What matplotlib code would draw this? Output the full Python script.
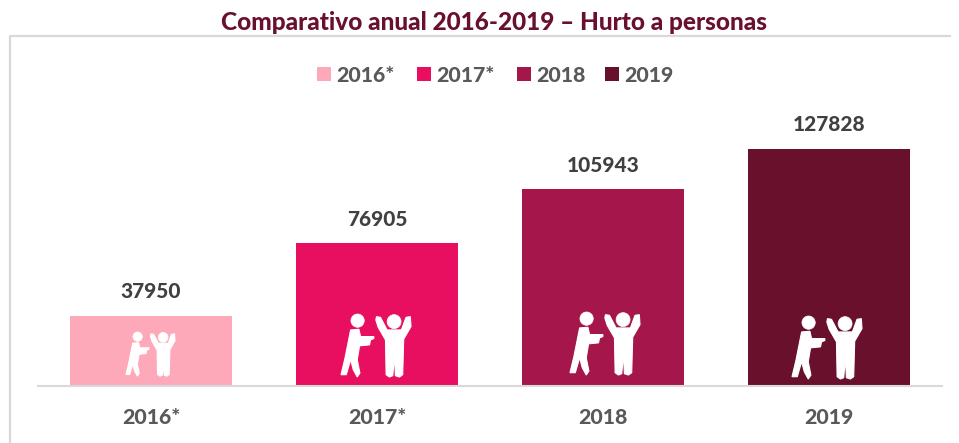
import matplotlib
matplotlib.use("Agg")
import matplotlib.pyplot as plt
from matplotlib.patches import Polygon, Circle, Rectangle
from matplotlib.transforms import Affine2D

categories = ["2016*", "2017*", "2018", "2019"]
values = [37950, 76905, 105943, 127828]
colors = ["#FDA9B9", "#E80E60", "#A5174B", "#69102D"]
title = "Comparativo anual 2016-2019 – Hurto a personas"
plt.rcParams['font.family'] = ['Lato', 'DejaVu Sans']

W, H = 959, 443
fig = plt.figure(figsize=(W/100, H/100), dpi=100)
ax = fig.add_axes([38/W, 1-386/H, 904/W, 270/H])
ax.set_xlim(-0.5, 3.5)
ax.set_ylim(0, 127828*270/237.2)
ax.bar(range(4), values, width=0.717, color=colors, zorder=2)
for s in ['top', 'left', 'right']:
    ax.spines[s].set_visible(False)
ax.spines['bottom'].set_color('#D9D9D9')
ax.spines['bottom'].set_linewidth(1.5)
ax.set_yticks([])
ax.set_xticks(range(4))
ax.set_xticklabels(categories, fontsize=15.3, fontweight='black', color='#595959')
ax.tick_params(axis='x', length=0, pad=16)
for i, v in enumerate(values):
    ax.annotate(str(v), (i, v), xytext=(0, 10.5), textcoords='offset points',
                ha='center', va='bottom', fontsize=15, fontweight='black', color='#404040')

# frame
fig.add_artist(plt.Line2D([9.5/W, 9.5/W, 950/W], [0, 1-36/H, 1-36/H], color='#D9D9D9', lw=1.6))
fig.text(494/W, 1-22/H, title, ha='center', va='center', fontsize=17.6,
         fontweight='black', color='#69102D')

# legend
for (x, lab, c) in zip([317, 417, 517, 605], categories, colors):
    fig.add_artist(Rectangle((x/W, 1-81/H), 14/W, 14/H, transform=fig.transFigure, color=c, lw=0))
    fig.text((x+19.5)/W, 1-76/H, lab, ha='left', va='center', fontsize=15.3,
             fontweight='black', color='#595959')

# pictogram, local coordinates (y down)
left_body = [(65,80),(90,78),(95,100),(135,100),(135,106),(125,110),(122,125),(92,128),(85,170),
             (93,210),(85,222),(73,200),(65,170),(52,215),(36,215),(48,165),(58,115)]
right_body = [(143,40),(155,42),(175,80),(218,80),(232,42),(245,40),(247,70),(225,108),(222,215),
              (212,222),(200,218),(197,160),(192,218),(182,222),(172,215),(170,110),(148,72),(141,50)]
heads = [(86,52,20),(196,55,21)]

def icon(x0, y0, size):
    s = size/211
    tr = Affine2D().translate(-36, -32).scale(s, -s).translate(x0, H-y0)
    for pts in (left_body, right_body):
        fig.add_artist(Polygon(pts, closed=True, fc='white', ec='white', lw=0.8, transform=tr, zorder=5))
    for cx, cy, r in heads:
        fig.add_artist(Circle((cx, cy), r, fc='white', ec='white', lw=0.5, transform=tr, zorder=5))

for x0, y0, size in [(126,332,49),(341,314,70),(570,312,70),(792,316,70)]:
    icon(x0, y0, size)

fig.savefig("out.png", dpi=100)
